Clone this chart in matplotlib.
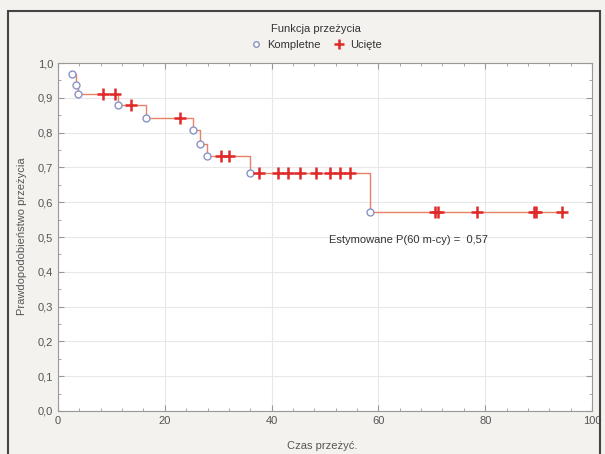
import numpy as np
import matplotlib
matplotlib.use('Agg')
import matplotlib.pyplot as plt
from matplotlib.ticker import AutoMinorLocator, FuncFormatter
from matplotlib.lines import Line2D
from matplotlib.patches import Rectangle

plt.rcParams['font.family'] = ['Liberation Sans', 'DejaVu Sans']

# zdarzenia (kompletne) i wartosci funkcji przezycia
event_times = [2.6, 3.4, 3.7, 11.3, 16.5, 25.2, 26.5, 27.9, 36.0, 58.4]
survival = [0.967, 0.937, 0.912, 0.878, 0.843, 0.807, 0.768, 0.733, 0.685, 0.572]
# obserwacje uciete
censor_times = [8.4, 10.6, 13.7, 22.9, 30.5, 32.0, 37.7, 41.2, 43.0, 45.3, 48.4,
                51.0, 52.8, 54.7, 70.6, 71.2, 78.4, 89.2, 89.5, 94.4]
x_ticks = [0, 20, 40, 60, 80, 100]
y_ticks = [0.0, 0.1, 0.2, 0.3, 0.4, 0.5, 0.6, 0.7, 0.8, 0.9, 1.0]

bg = '#f4f2ee'
txt = '#555555'

fig = plt.figure(figsize=(6.05, 4.54), dpi=100)
fig.patch.set_facecolor(bg)
W, H = 605, 454
fig.patches.append(Rectangle((8 / W, -0.05), (600 - 8) / W, 1.05 - 11 / H,
                             transform=fig.transFigure, fill=False,
                             edgecolor='#444444', linewidth=1.5))

ax = fig.add_axes([58 / W, 1 - 411 / H, (592 - 58) / W, (411 - 63) / H])
ax.set_facecolor('white')

# krzywa schodkowa
end_t = censor_times[-1]
ax.plot(event_times + [end_t], survival + [survival[-1]], drawstyle='steps-post',
        color='#e8806a', linewidth=1.0, zorder=2)

ax.plot(event_times, survival, linestyle='none', marker='o', markersize=5,
        markerfacecolor='white', markeredgecolor='#8a94c4', markeredgewidth=1.0,
        zorder=3)

idx = np.searchsorted(event_times, censor_times, side='right') - 1
censor_y = [survival[i] for i in idx]
ax.plot(censor_times, censor_y, linestyle='none', marker='+', markersize=8,
        markeredgewidth=1.8, color='#e02a2a', zorder=4)

ax.text(50.7, 0.49, 'Estymowane P(60 m-cy) =  0,57', fontsize=8, color='#333333',
        ha='left', va='center')

ax.set_xlim(0, 100)
ax.set_ylim(0, 1.0)
ax.set_xticks(x_ticks)
ax.set_yticks(y_ticks)
ax.yaxis.set_major_formatter(FuncFormatter(lambda v, p: f'{v:.1f}'.replace('.', ',')))
ax.xaxis.set_minor_locator(AutoMinorLocator(5))
ax.yaxis.set_minor_locator(AutoMinorLocator(2))
ax.tick_params(which='both', direction='in', top=True, right=True, colors='#999999',
               labelcolor=txt, labelsize=8)
ax.tick_params(which='major', length=4)
ax.tick_params(which='minor', length=2)
ax.grid(True, which='major', color='#e8e8e8', linewidth=0.8)
ax.set_axisbelow(True)
for s in ax.spines.values():
    s.set_color('#999999')
    s.set_linewidth(0.8)

fig.text(22 / W, 1 - 236 / H, 'Prawdopodobieństwo przeżycia', rotation=90,
         ha='center', va='center', fontsize=8, color=txt)
fig.text(322 / W, 1 - 446 / H, 'Czas przeżyć.', ha='center', va='center',
         fontsize=8, color=txt)

handles = [Line2D([], [], linestyle='none', marker='o', markersize=4,
                  markerfacecolor='white', markeredgecolor='#8a94c4'),
           Line2D([], [], linestyle='none', marker='+', markersize=7,
                  markeredgewidth=1.8, color='#e02a2a')]
leg = fig.legend(handles, ['Kompletne', 'Ucięte'], title='Funkcja przeżycia',
                 loc='center', bbox_to_anchor=(316 / W, 1 - 37 / H), ncol=2,
                 frameon=False, fontsize=8, title_fontsize=8, handlelength=1,
                 handletextpad=0.5, columnspacing=1.2, labelcolor='#333333')
leg.get_title().set_color('#333333')

fig.savefig('out.png', dpi=100, facecolor=bg)
